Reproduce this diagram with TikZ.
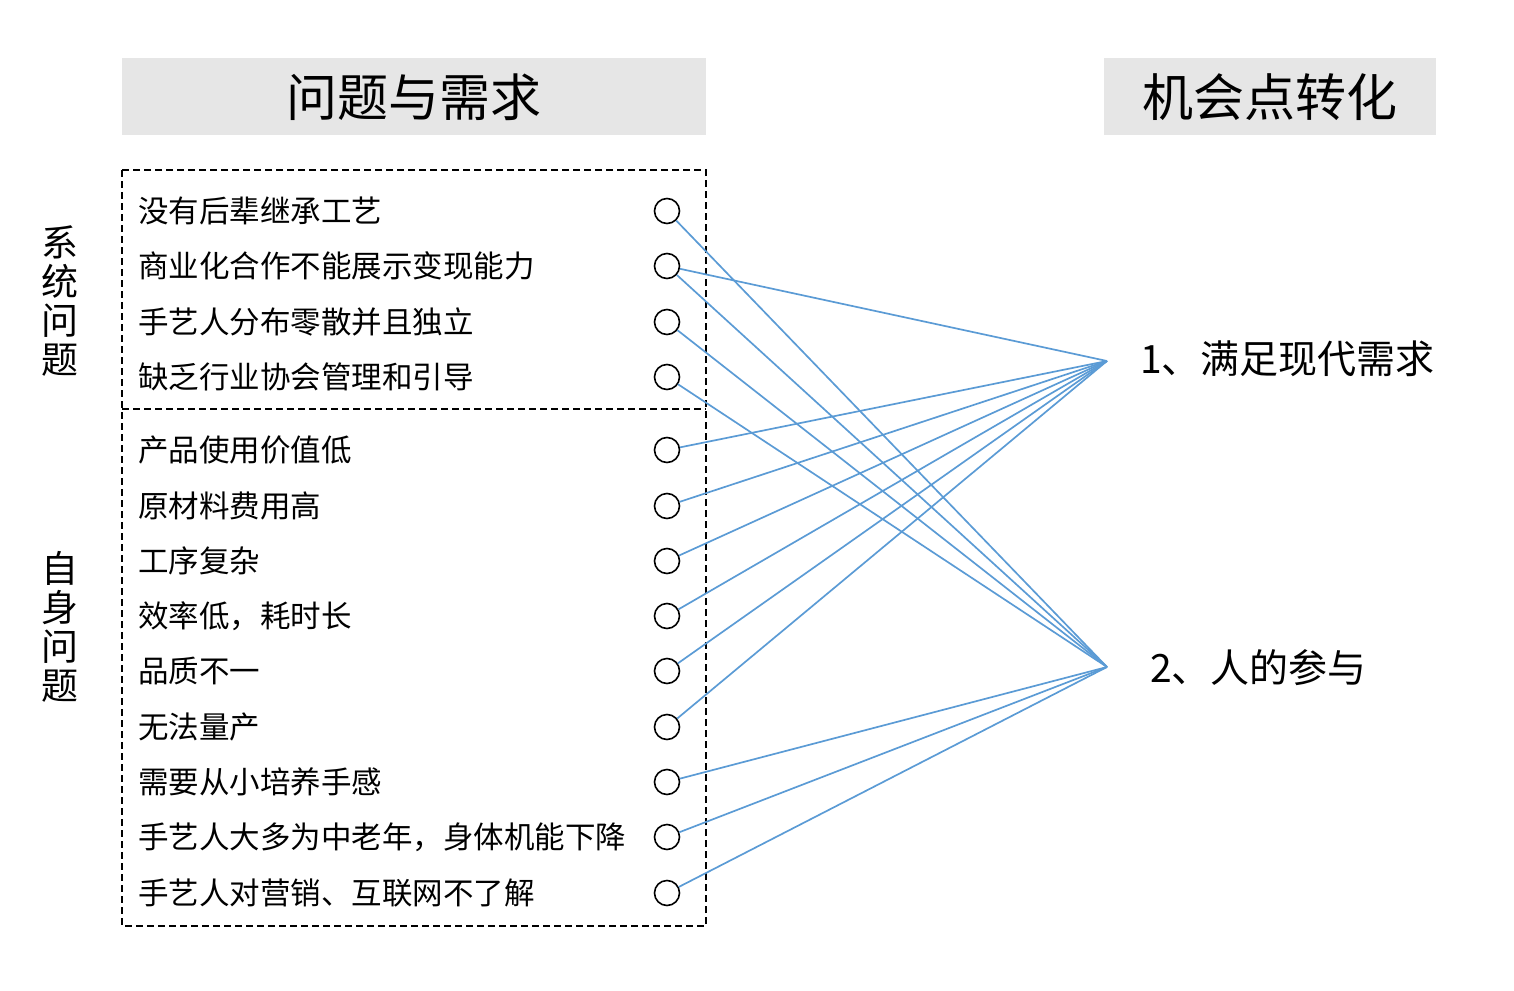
\documentclass[tikz,border=0pt]{standalone}
\usepackage{fontspec}
\setmainfont{Noto Sans CJK SC}
\newfontfamily\cjk{Noto Sans CJK SC}
\definecolor{hdrgray}{HTML}{E6E6E6}
\definecolor{linkblue}{HTML}{5B9BD5}
\begin{document}
\begin{tikzpicture}[x=1pt,y=-1pt,
  hdr/.style={fill=hdrgray,draw=none,inner sep=0pt},
  hdrtext/.style={font=\cjk\fontsize{51}{56}\selectfont,inner sep=0pt},
  item/.style={anchor=west,font=\cjk\fontsize{30.5}{34}\selectfont,inner sep=0pt},
  circ/.style={circle,draw=black,line width=1.6pt,minimum size=25pt,inner sep=0pt},
  link/.style={draw=linkblue,line width=1.7pt},
  side/.style={font=\cjk\fontsize{37}{39}\selectfont,align=center,inner sep=0pt},
  target/.style={anchor=west,font=\cjk\fontsize{39}{43}\selectfont,inner sep=0pt},
  dashbox/.style={draw=black,line width=1.7pt,dash pattern=on 7pt off 4pt}
]
\useasboundingbox (0,0) rectangle (1514,990);
% headers
\fill[hdr] (122,58) rectangle (706,135);
\fill[hdr] (1104,58) rectangle (1436,135);
\node[hdrtext] (h1) at (414,97) {问题与需求};
\node[hdrtext] (h2) at (1270,97) {机会点转化};
% dashed box
\draw[dashbox] (122,170) rectangle (706,926);
\draw[dashbox] (122,409) -- (706,409);
% side labels
\node[side] (s1) at (60,301) {系\\统\\问\\题};
\node[side] (s2) at (60,627) {自\\身\\问\\题};
% items
\foreach \i/\y/\t in {1/211/没有后辈继承工艺,2/266/商业化合作不能展示变现能力,3/322/手艺人分布零散并且独立,4/377/缺乏行业协会管理和引导,5/450/产品使用价值低,6/506/原材料费用高,7/561/工序复杂,8/616/{效率低，耗时长},9/671/品质不一,10/727/无法量产,11/782/需要从小培养手感,12/837/{手艺人大多为中老年，身体机能下降},13/893/手艺人对营销、互联网不了解}{
  \node[item] (t\i) at (138,\y) {\t};
  \node[circ] (c\i) at (667,\y) {};
}
% targets
\coordinate (g1) at (1107,361);
\coordinate (g2) at (1107,667);
\node[target] (l1) at (1140,359) {1、满足现代需求};
\node[target] (l2) at (1150,668) {2、人的参与};
% links
\foreach \i in {1,2,3,4,11,12,13}{\draw[link] (c\i) -- (g2);}
\foreach \i in {2,5,6,7,8,9,10}{\draw[link] (c\i) -- (g1);}
\end{tikzpicture}
\end{document}
